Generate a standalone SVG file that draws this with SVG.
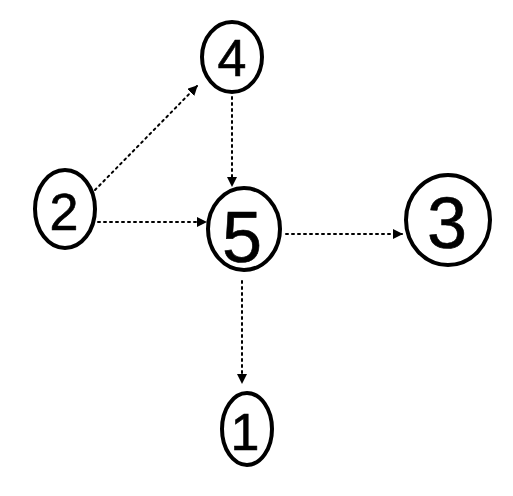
<svg xmlns="http://www.w3.org/2000/svg" width="513" height="496" viewBox="0 0 513 496">
<style>
.node ellipse{fill:none;stroke:#000;stroke-width:4}
.node text{font-family:"Liberation Sans",Arial,sans-serif;font-size:52px;text-anchor:middle;fill:#000;stroke:#000;stroke-width:0.6}
.node text.big{font-size:72px}
.edge{fill:none;stroke:#000;stroke-width:2;stroke-dasharray:2 4;stroke-linecap:round}
</style>
<defs>
<marker id="ah" viewBox="0 0 10 10" refX="9" refY="5" markerWidth="10" markerHeight="10" markerUnits="userSpaceOnUse" orient="auto">
<path d="M0,0 L10,5 L0,10 z" fill="#000"/>
</marker>
</defs>
<rect width="513" height="496" fill="#fff"/>
<g id="connectors">
<path class="edge" d="M95,190 L197,86" marker-end="url(#ah)"/>
<path class="edge" d="M98,222 L206,222" marker-end="url(#ah)"/>
<path class="edge" d="M232,97 L232,186" marker-end="url(#ah)"/>
<path class="edge" d="M286,234 L402,234" marker-end="url(#ah)"/>
<path class="edge" d="M242,281 L242,383" marker-end="url(#ah)"/>
</g>
<g id="node4" class="node">
<ellipse cx="232" cy="57" rx="30" ry="35"/>
<text x="232" y="76">4</text>
</g>
<g id="node2" class="node">
<ellipse cx="65" cy="209" rx="30" ry="39"/>
<text x="64" y="230">2</text>
</g>
<g id="node5" class="node">
<ellipse cx="244" cy="229" rx="36" ry="41"/>
<text class="big" x="242" y="262">5</text>
</g>
<g id="node3" class="node">
<ellipse cx="448" cy="220" rx="42" ry="45"/>
<text class="big" x="447" y="248">3</text>
</g>
<g id="node1" class="node">
<ellipse cx="247" cy="429" rx="25" ry="36"/>
<text x="245" y="450">1</text>
</g>
</svg>
